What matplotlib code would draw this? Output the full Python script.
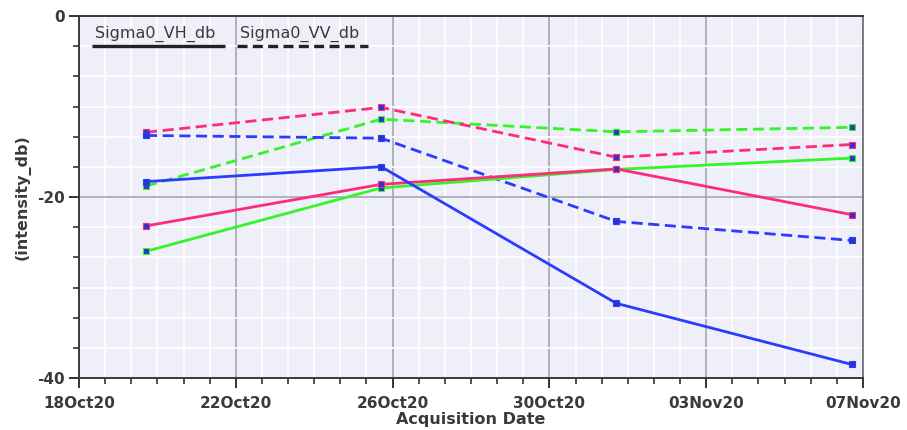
import datetime as dt
import numpy as np
import matplotlib
matplotlib.use("Agg")
import matplotlib.pyplot as plt
import matplotlib.dates as mdates
from matplotlib.ticker import FixedLocator

plt.rcParams["axes.unicode_minus"] = False

# Acquisition times (Sentinel-1 passes, ~17:00 UTC)
dates = [dt.datetime(2020, 10, 19, 17), dt.datetime(2020, 10, 25, 17),
         dt.datetime(2020, 10, 31, 17), dt.datetime(2020, 11, 6, 17)]

# Backscatter per area (dB)
blue_vh = [-18.3, -16.65, -31.75, -38.5]
blue_vv = [-13.2, -13.5, -22.7, -24.8]
green_vh = [-26.0, -19.0, -16.95, -15.7]
green_vv = [-18.8, -11.4, -12.8, -12.3]
pink_vh = [-23.2, -18.6, -16.9, -21.95]
pink_vv = [-12.85, -10.1, -15.6, -14.2]

tick_dates = [dt.datetime(2020, 10, 18), dt.datetime(2020, 10, 22), dt.datetime(2020, 10, 26),
              dt.datetime(2020, 10, 30), dt.datetime(2020, 11, 3), dt.datetime(2020, 11, 7)]
y_ticks = [-40, -20, 0]

BLUE = "#2a3cff"
GREEN = "#33f527"
PINK = "#ff2a7a"
MARK = "#2b35c8"
TXT = "#3a3a3a"

fig = plt.figure(figsize=(9.07, 4.30), dpi=100)
ax = fig.add_axes([79 / 907, 52 / 430, 784 / 907, 362 / 430])
ax.set_facecolor("#efeff9")

x0 = mdates.date2num(tick_dates[0])
x1 = mdates.date2num(tick_dates[-1])
ax.set_xlim(x0, x1)
ax.set_ylim(-40, 0)

# grid: white minor lines, gray major lines
minor_x = x0 + np.arange(0, 19 * 6 + 1) * (4 / 6)
minor_y = -40 + np.arange(0, 13) * (20 / 6)
ax.xaxis.set_minor_locator(FixedLocator(minor_x))
ax.yaxis.set_minor_locator(FixedLocator(minor_y))
ax.set_xticks(mdates.date2num(tick_dates))
ax.set_yticks(y_ticks)
ax.xaxis.set_major_formatter(mdates.DateFormatter("%d%b%y"))
ax.grid(which="minor", color="white", lw=1.2, zorder=0)
ax.grid(which="major", color="#a0a0a8", lw=1.1, zorder=0.5)
ax.set_axisbelow(True)

solid_kw = dict(lw=2.0, marker="s", ms=3.8, mfc=MARK, mew=0.8, zorder=3)
dash_kw = dict(lw=2.0, marker="s", ms=3.8, mfc=MARK, mew=0.8, zorder=3, dashes=(4, 2))

for vals, col in [(green_vv, GREEN), (pink_vv, PINK), (blue_vv, BLUE)]:
    ax.plot(dates, vals, color=col, mec=col, **dash_kw)
for vals, col in [(green_vh, GREEN), (pink_vh, PINK), (blue_vh, BLUE)]:
    ax.plot(dates, vals, color=col, mec=col, **solid_kw)

for s in ax.spines.values():
    s.set_color("#3a3a3a")
    s.set_linewidth(1.4)
ax.spines["right"].set_color("#6a6a6a")
ax.spines["right"].set_linewidth(1.2)

ax.tick_params(which="major", length=7, width=1.4, color="#333333",
               labelsize=11, labelcolor=TXT, pad=3)
ax.tick_params(axis="x", which="major", pad=6)
ax.tick_params(which="minor", length=4, width=1.2, color="#333333")
ax.tick_params(axis="x", which="both", top=False)
ax.tick_params(axis="y", which="both", right=False)
for lab in ax.get_xticklabels() + ax.get_yticklabels():
    lab.set_fontweight("bold")

ax.set_xlabel("Acquisition Date", fontsize=11.5, fontweight="bold", color=TXT, labelpad=1)
ax.set_ylabel("(intensity_db)", fontsize=11.5, fontweight="bold", color=TXT, labelpad=5)

# legend drawn inside the plot along the top
def px(xp, yp):
    return ((xp - 79) / 784, (378 - yp) / 362)

lx0, ly = px(92, 46)
lx1, _ = px(225, 46)
ax.plot([lx0, lx1], [ly, ly], transform=ax.transAxes, color="#222222", lw=2.4,
        solid_capstyle="butt", zorder=4, clip_on=False)
dx0, _ = px(237, 46)
dx1, _ = px(368, 46)
ax.plot([dx0, dx1], [ly, ly], transform=ax.transAxes, color="#222222", lw=2.4,
        dashes=(3, 1.6), zorder=4, clip_on=False)
tx, ty = px(95, 38)
ax.text(tx, ty, "Sigma0_VH_db", transform=ax.transAxes, fontsize=11.5,
        color=TXT, ha="left", va="baseline")
tx2, _ = px(240, 38)
ax.text(tx2, ty, "Sigma0_VV_db", transform=ax.transAxes, fontsize=11.5,
        color=TXT, ha="left", va="baseline")

fig.savefig("out.png", dpi=100)
